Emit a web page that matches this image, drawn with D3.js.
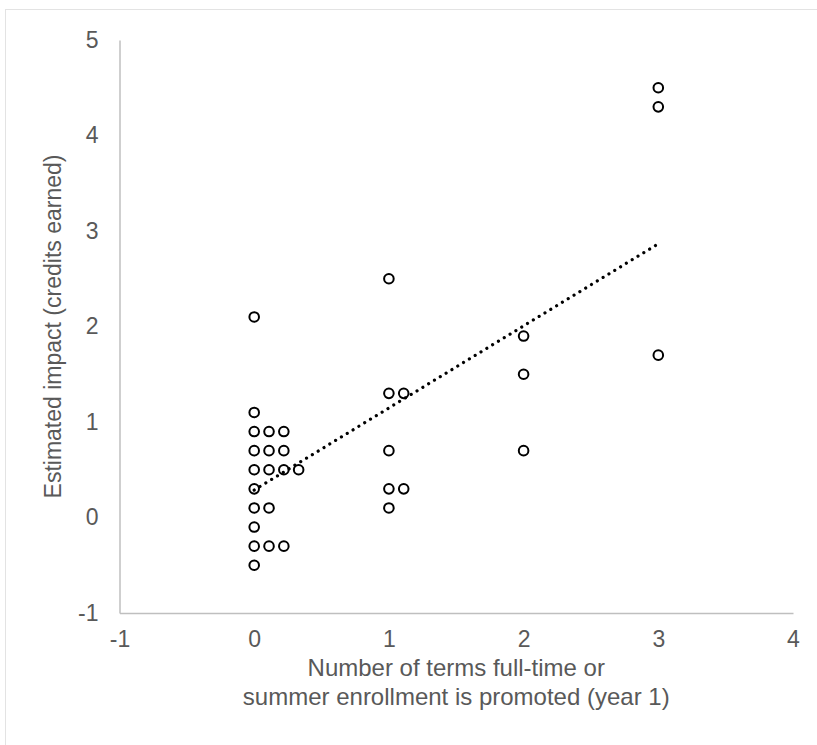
<!DOCTYPE html>
<html>
<head>
<meta charset="utf-8">
<script src="https://cdn.jsdelivr.net/npm/d3@7.9.0/dist/d3.min.js"></script>
<style>
  html, body { margin: 0; padding: 0; background: #fff; }
  svg { display: block; font-family: "Liberation Sans", Arial, sans-serif; }
</style>
</head>
<body>
<svg id="chart" width="817" height="745"></svg>
<script>
// terms promoted (x) and estimated impact (y)
const termsX = [
  0, 0, 0, 0, 0, 0, 0, 0, 0, 0,
  0.11, 0.11, 0.11, 0.11, 0.11,
  0.22, 0.22, 0.22, 0.22,
  0.33,
  1, 1, 1, 1, 1,
  1.11, 1.11,
  2, 2, 2,
  3, 3, 3
];
const impactY = [
  2.1, 1.1, 0.9, 0.7, 0.5, 0.3, 0.1, -0.1, -0.3, -0.5,
  0.9, 0.7, 0.5, 0.1, -0.3,
  0.9, 0.7, 0.5, -0.3,
  0.5,
  2.5, 1.3, 0.7, 0.3, 0.1,
  1.3, 0.3,
  1.9, 1.5, 0.7,
  4.5, 4.3, 1.7
];
const xTicks = [-1, 0, 1, 2, 3, 4];
const yTicks = [-1, 0, 1, 2, 3, 4, 5];
const xTitle = ['Number of terms full-time or', 'summer enrollment is promoted (year 1)'];
const yTitle = 'Estimated impact (credits earned)';

const points = termsX.map((x, i) => ({ x, y: impactY[i] }));

const svg = d3.select('#chart');
const margin = { left: 119.5, right: 24, top: 40, bottom: 132 };
const W = 817, H = 745;

const x = d3.scaleLinear().domain([-1, 4]).range([margin.left, W - margin.right]);
const y = d3.scaleLinear().domain([-1, 5]).range([H - margin.bottom, margin.top]);

// outer chart border
svg.append('rect')
  .attr('x', 5.5).attr('y', 9.5)
  .attr('width', 900).attr('height', 900)
  .attr('fill', 'none')
  .attr('stroke', '#e3e3e3')
  .attr('stroke-width', 1);

// axes: plain lines, no tick marks, hyphen minus like the original
const fmt = d => String(d);
const xAxis = svg.append('g')
  .attr('transform', `translate(0,${y(-1)})`)
  .call(d3.axisBottom(x).tickValues(xTicks).tickSize(0).tickPadding(18).tickFormat(fmt));
const yAxis = svg.append('g')
  .attr('transform', `translate(${x(-1)},0)`)
  .call(d3.axisLeft(y).tickValues(yTicks).tickSize(0).tickPadding(21).tickFormat(fmt));

[xAxis, yAxis].forEach(g => {
  g.attr('font-size', 23).attr('font-family', null);
  g.select('.domain').attr('stroke', '#bfbfbf').attr('stroke-width', 1.5);
  g.selectAll('text')
    .attr('fill', '#595959')
    .attr('font-size', 23);
});
xAxis.selectAll('text').attr('dy', '0.71em');

// linear trendline (least squares over the points), drawn between min and max x
const mx = d3.mean(termsX), my = d3.mean(impactY);
const slope = d3.sum(points, p => (p.x - mx) * (p.y - my)) / d3.sum(points, p => (p.x - mx) ** 2);
const intercept = my - slope * mx;
const [x0, x1] = d3.extent(termsX);
svg.append('line')
  .attr('x1', x(x0)).attr('y1', y(intercept + slope * x0))
  .attr('x2', x(x1)).attr('y2', y(intercept + slope * x1))
  .attr('stroke', '#000')
  .attr('stroke-width', 3.2)
  .attr('stroke-linecap', 'round')
  .attr('stroke-dasharray', '0.01 6.8');

// markers
svg.append('g')
  .selectAll('circle')
  .data(points)
  .join('circle')
  .attr('cx', d => x(d.x))
  .attr('cy', d => y(d.y))
  .attr('r', 4.8)
  .attr('fill', 'none')
  .attr('stroke', '#000')
  .attr('stroke-width', 2);

// axis titles
svg.append('text')
  .attr('y', 676)
  .attr('text-anchor', 'middle')
  .attr('fill', '#595959')
  .attr('font-size', 24)
  .selectAll('tspan')
  .data(xTitle)
  .join('tspan')
  .attr('x', (x(-1) + x(4)) / 2)
  .attr('dy', (d, i) => i === 0 ? 0 : 29)
  .text(d => d);

svg.append('text')
  .attr('transform', `translate(61,${(y(-1) + y(5)) / 2}) rotate(-90)`)
  .attr('text-anchor', 'middle')
  .attr('fill', '#595959')
  .attr('font-size', 23)
  .text(yTitle);
</script>
</body>
</html>
